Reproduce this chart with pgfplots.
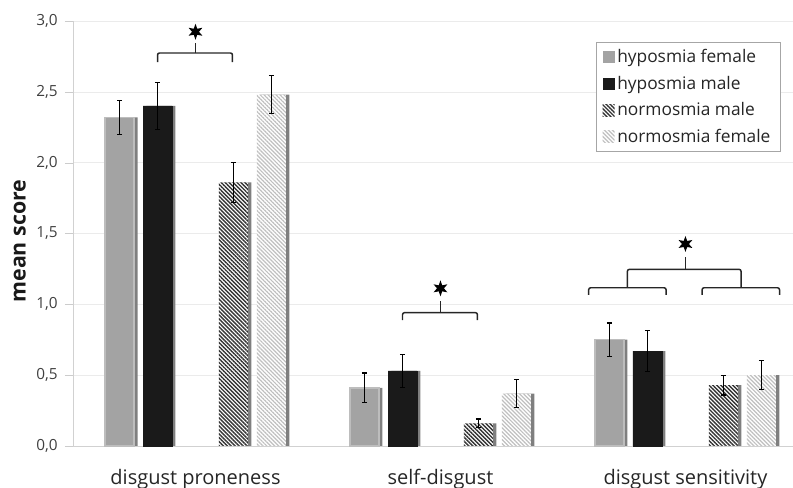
\documentclass[border=0pt]{standalone}
\usepackage{fontspec}
\setmainfont{Open Sans}
\usepackage{pgfplots}
\pgfplotsset{compat=1.18}
\usetikzlibrary{patterns.meta,shapes.geometric}
\definecolor{hf}{HTML}{A3A3A3}
\definecolor{hfedge}{HTML}{BDBDBD}
\definecolor{hm}{HTML}{1A1A1A}
\definecolor{shadowc}{HTML}{7F7F7F}
\definecolor{txt}{HTML}{404040}
\pgfplotsset{
  mylegend/.style={legend image code/.code={\draw[##1,draw=none] (0pt,-4.5pt) rectangle (9pt,4.5pt);}},
  barbase/.style={ybar, bar width=21.75pt, bar shift=0pt},
  shadowbar/.style={ybar, bar width=21.75pt, bar shift=2.6pt, fill=shadowc, draw=none, forget plot},
  myerr/.style={error bars/.cd, y dir=both, y explicit,
     error bar style={line width=1pt, black},
     error mark options={rotate=90, mark size=1.9pt, line width=0.9pt, black}},
}
\begin{document}
\begin{tikzpicture}
\begin{axis}[name=ax, scale only axis, width=540pt, height=318.75pt,
  xmin=-0.5, xmax=2.439, ymin=0, ymax=3,
  axis lines=left, axis line style={-, draw=black!18},
  ytick={0,0.5,1,1.5,2,2.5,3},
  ymajorgrids, major grid style={draw=black!8},
  xtick={0,1,2},
  xticklabels={disgust proneness, self-disgust, disgust sensitivity},
  x tick style={draw=none},
  y tick style={draw=black!20},
  major tick length=6pt, tick align=outside,
  y tick label style={/pgf/number format/fixed, /pgf/number format/fixed zerofill,
     /pgf/number format/precision=1, /pgf/number format/use comma,
     /pgf/number format/assume math mode=true,
     font=\fontsize{11.5}{13}\selectfont, text=txt, xshift=-2pt},
  x tick label style={font=\fontsize{15}{17}\selectfont, text=black!85, anchor=base, yshift=-23pt, inner sep=0pt},
  ylabel={mean score},
  ylabel style={font=\fontsize{16}{18}\bfseries, text=black!90, at={(axis description cs:-0.074,0.482)}, anchor=center},
  legend style={at={(axis description cs:0.982,0.951)}, anchor=north east,
     draw=black!35, fill=white, font=\fontsize{13}{15}\selectfont, text=black!85,
     row sep=4.5pt, inner xsep=5pt, inner ysep=3.5pt,
     /tikz/every even column/.append style={column sep=1pt}},
  legend cell align=left,
  clip=false,
]
% shadows
\addplot[shadowbar] coordinates {(-0.31,2.32) (0.69,0.41) (1.69,0.75)};
\addplot[shadowbar] coordinates {(-0.155,2.40) (0.845,0.53) (1.845,0.67)};
\addplot[shadowbar] coordinates {(0.155,1.86) (1.155,0.16) (2.155,0.43)};
\addplot[shadowbar] coordinates {(0.31,2.48) (1.31,0.37) (2.31,0.50)};
% bars
\addplot[barbase, fill=hf, draw=hfedge, line width=1pt, mylegend, myerr]
  coordinates {(-0.31,2.32) +- (0,0.12) (0.69,0.41) +- (0,0.105) (1.69,0.75) +- (0,0.118)};
\addlegendentry{hyposmia female}
\addplot[barbase, fill=hm, draw=hm, mylegend, myerr]
  coordinates {(-0.155,2.40) +- (0,0.165) (0.845,0.53) +- (0,0.118) (1.845,0.67) +- (0,0.146)};
\addlegendentry{hyposmia male}
\addplot[barbase, fill=white, draw=none, postaction={pattern={Lines[angle=-45,distance=2.1pt,line width=1.05pt]}, pattern color=black!80}, mylegend, myerr]
  coordinates {(0.155,1.86) +- (0,0.14) (1.155,0.16) +- (0,0.03) (2.155,0.43) +- (0,0.07)};
\addlegendentry{normosmia male}
\addplot[barbase, fill=white, draw=none, postaction={pattern={Lines[angle=-45,distance=2.1pt,line width=0.9pt]}, pattern color=black!25}, mylegend, myerr]
  coordinates {(0.31,2.48) +- (0,0.135) (1.31,0.37) +- (0,0.10) (2.31,0.50) +- (0,0.104)};
\addlegendentry{normosmia female}
% brackets
\draw[line width=1.1pt, black!85, rounded corners=1.5pt]
  (axis cs:-0.155,2.71) -- (axis cs:-0.155,2.774) -- (axis cs:0.151,2.774) -- (axis cs:0.151,2.71);
\draw[line width=1.1pt, black!85] (axis cs:0,2.774) -- (axis cs:0,2.847);
\node[star, star points=6, star point ratio=2.3, fill=black, inner sep=0pt, minimum size=12pt] at (axis cs:0,2.924) {};
\draw[line width=1.1pt, black!85, rounded corners=1.5pt]
  (axis cs:0.845,0.889) -- (axis cs:0.845,0.941) -- (axis cs:1.151,0.941) -- (axis cs:1.151,0.889);
\draw[line width=1.1pt, black!85] (axis cs:1,0.941) -- (axis cs:1,1.026);
\node[star, star points=6, star point ratio=2.3, fill=black, inner sep=0pt, minimum size=12pt] at (axis cs:1,1.113) {};
\draw[line width=1.1pt, black!85, rounded corners=1.5pt]
  (axis cs:1.605,1.066) -- (axis cs:1.605,1.117) -- (axis cs:1.921,1.117) -- (axis cs:1.921,1.066);
\draw[line width=1.1pt, black!85, rounded corners=1.5pt]
  (axis cs:2.068,1.066) -- (axis cs:2.068,1.117) -- (axis cs:2.384,1.117) -- (axis cs:2.384,1.066);
\draw[line width=1.1pt, black!85, rounded corners=1.5pt]
  (axis cs:1.763,1.117) -- (axis cs:1.763,1.247) -- (axis cs:2.227,1.247) -- (axis cs:2.227,1.117);
\draw[line width=1.1pt, black!85] (axis cs:2,1.247) -- (axis cs:2,1.336);
\node[star, star points=6, star point ratio=2.3, fill=black, inner sep=0pt, minimum size=12pt] at (axis cs:2,1.426) {};
\end{axis}
\pgfresetboundingbox
\path[use as bounding box] ([xshift=-54.75pt,yshift=-31.5pt]ax.south west) rectangle ([yshift=15.75pt]ax.north east);
\end{tikzpicture}
\end{document}
